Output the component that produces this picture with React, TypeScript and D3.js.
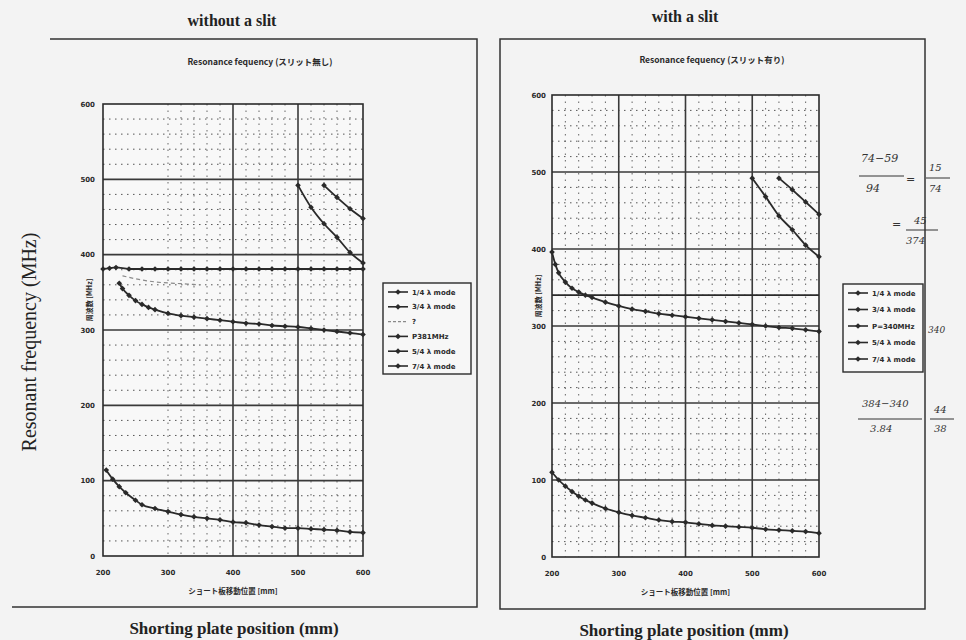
import React from "react";
import * as d3 from "d3";

// ---------- data ----------
const xTicks = [200, 300, 400, 500, 600];
const yTicks = [0, 100, 200, 300, 400, 500, 600];

// without a slit
const L_q1_x = [205, 215, 225, 235, 250, 260, 280, 300, 320, 340, 360, 380, 400, 420, 440, 460, 480, 500, 520, 540, 560, 580, 600];
const L_q1_y = [114, 102, 92, 84, 74, 68, 63, 59, 55, 52, 50, 48, 45, 44, 41, 39, 37, 37, 36, 35, 34, 32, 31];
const L_q3_x = [225, 230, 240, 250, 260, 270, 280, 300, 320, 340, 360, 380, 400, 420, 440, 460, 480, 500, 520, 540, 560, 580, 600];
const L_q3_y = [362, 355, 346, 339, 334, 330, 327, 322, 319, 317, 315, 313, 311, 309, 308, 306, 305, 304, 302, 300, 298, 296, 294];
const L_unk_x = [230, 250, 270, 290, 310, 330, 350];
const L_unk_y = [372, 368, 365, 363, 362, 361, 360];
const L_p_x = [200, 210, 220, 240, 260, 280, 300, 320, 340, 360, 380, 400, 420, 440, 460, 480, 500, 520, 540, 560, 580, 600];
const L_p_y = [381, 382, 383, 381, 381, 381, 381, 381, 381, 381, 381, 381, 381, 381, 381, 381, 381, 381, 381, 381, 381, 381];
const L_q5_x = [500, 520, 540, 560, 580, 600];
const L_q5_y = [492, 463, 441, 423, 403, 389];
const L_q7_x = [540, 560, 580, 600];
const L_q7_y = [492, 476, 461, 448];

// with a slit
const R_q1_x = [200, 210, 220, 230, 240, 250, 260, 280, 300, 320, 340, 360, 380, 400, 420, 440, 460, 480, 500, 520, 540, 560, 580, 600];
const R_q1_y = [110, 100, 92, 85, 79, 74, 70, 63, 58, 54, 51, 48, 46, 45, 43, 41, 40, 39, 38, 36, 35, 34, 33, 31];
const R_q3_x = [200, 205, 210, 220, 230, 240, 250, 260, 280, 300, 320, 340, 360, 380, 400, 420, 440, 460, 480, 500, 520, 540, 560, 580, 600];
const R_q3_y = [396, 380, 369, 357, 349, 344, 340, 337, 331, 326, 322, 319, 316, 314, 312, 310, 308, 306, 304, 302, 300, 298, 297, 295, 293];
const R_p_x = [200, 600];
const R_p_y = [340, 340];
const R_q5_x = [500, 520, 540, 560, 580, 600];
const R_q5_y = [492, 468, 443, 425, 405, 390];
const R_q7_x = [540, 560, 580, 600];
const R_q7_y = [492, 477, 461, 445];

const L_legend = ["1/4 λ mode", "3/4 λ mode", "?", "P381MHz", "5/4 λ mode", "7/4 λ mode"];
const R_legend = ["1/4 λ mode", "3/4 λ mode", "P=340MHz", "5/4 λ mode", "7/4 λ mode"];

const INK = "#2a2a2a";
const GRID = "#3a3a3a";

type Series = { xs: number[]; ys: number[]; dashed?: boolean; light?: boolean; marker?: boolean };

function Chart(props: {
  left: number; right: number; top: number; bottom: number;
  series: Series[]; vGrid: number[]; minorXFrom: number;
  title: string; titleX: number; titleY: number; legend: string[]; legendSeries: Series[];
  lg: { x: number; y: number; w: number; h: number; step: number };
  ylabX: number; tickLabRight: number; xTickY: number;
}) {
  const x = d3.scaleLinear().domain([200, 600]).range([props.left, props.right]);
  const y = d3.scaleLinear().domain([0, 600]).range([props.bottom, props.top]);
  const mkPath = (s: Series) =>
    d3.line<[number, number]>().x((d) => x(d[0])).y((d) => y(d[1])).curve(d3.curveMonotoneX)(
      s.xs.map((v, i) => [v, s.ys[i]] as [number, number])
    ) || "";
  const minorY = d3.range(20, 600, 20).filter((v) => v % 100 !== 0);
  const minorX = d3.range(props.minorXFrom, 600, 20).filter((v) => !props.vGrid.includes(v));
  return (
    <g>
      <rect x={props.left} y={props.top} width={props.right - props.left} height={props.bottom - props.top} fill="#f8f8f8" />
      {minorY.map((v) => (
        <line key={"my" + v} x1={props.left} x2={props.right} y1={y(v)} y2={y(v)} stroke="#555" strokeWidth={1} strokeDasharray="1.5,4.5" />
      ))}
      {minorX.map((v) => (
        <line key={"mx" + v} x1={x(v)} x2={x(v)} y1={props.top} y2={props.bottom} stroke="#666" strokeWidth={1} strokeDasharray="1.5,5" />
      ))}
      {[100, 200, 300, 400, 500].map((v) => (
        <line key={"gy" + v} x1={props.left} x2={props.right} y1={y(v)} y2={y(v)} stroke={GRID} strokeWidth={1.6} />
      ))}
      {props.vGrid.map((v) => (
        <line key={"gx" + v} x1={x(v)} x2={x(v)} y1={props.top} y2={props.bottom} stroke={GRID} strokeWidth={1.6} />
      ))}
      <rect x={props.left} y={props.top} width={props.right - props.left} height={props.bottom - props.top} fill="none" stroke={INK} strokeWidth={1.6} />
      {props.series.map((s, i) => (
        <g key={"s" + i}>
          <path d={mkPath(s)} fill="none" stroke={s.light ? "#8a8a8a" : INK} strokeWidth={s.light ? 1.2 : 1.8} strokeDasharray={s.dashed ? "4,3" : undefined} />
          {s.marker !== false && !s.light && s.xs.map((v, j) => (
            <rect key={j} x={x(v) - 2} y={y(s.ys[j]) - 2} width={4} height={4} fill={INK} transform={`rotate(45 ${x(v)} ${y(s.ys[j])})`} />
          ))}
        </g>
      ))}
      {yTicks.map((v) => (
        <text key={"yt" + v} x={props.tickLabRight} y={y(v) + 2.5} fontSize={7} fontWeight="bold" textAnchor="end" fill={INK} fontFamily="DejaVu Sans">{v}</text>
      ))}
      {xTicks.map((v) => (
        <text key={"xt" + v} x={x(v)} y={props.xTickY} fontSize={7} fontWeight="bold" textAnchor="middle" fill={INK} fontFamily="DejaVu Sans">{v}</text>
      ))}
      <text x={(props.left + props.right) / 2} y={props.xTickY + 19} fontSize={7.5} textAnchor="middle" fill={INK} fontFamily="Noto Sans CJK JP" fontWeight="bold">ショート板移動位置 [mm]</text>
      <text transform={`translate(${props.ylabX},${(props.top + props.bottom) / 2 - 30}) rotate(-90)`} fontSize={7} textAnchor="middle" fill={INK} fontFamily="Noto Sans CJK JP" fontWeight="bold">周波数 [MHz]</text>
      <text x={props.titleX} y={props.titleY} fontSize={8.5} textAnchor="middle" fill={INK} fontFamily="Noto Sans CJK JP" fontWeight="bold">{props.title}</text>
      <g>
        <rect x={props.lg.x} y={props.lg.y} width={props.lg.w} height={props.lg.h} fill="#f7f7f7" stroke={INK} strokeWidth={1.4} />
        {props.legend.map((t, i) => {
          const s = props.legendSeries[i];
          const yy = props.lg.y + 9 + i * props.lg.step;
          return (
            <g key={"lg" + i}>
              <line x1={props.lg.x + 5} x2={props.lg.x + 25} y1={yy} y2={yy} stroke={s.light ? "#8a8a8a" : INK} strokeWidth={s.light ? 1.2 : 1.6} strokeDasharray={s.dashed ? "3,2" : undefined} />
              {!s.light && <rect x={props.lg.x + 13} y={yy - 2} width={4} height={4} fill={INK} transform={`rotate(45 ${props.lg.x + 15} ${yy})`} />}
              <text x={props.lg.x + 29} y={yy + 2.5} fontSize={7} fontWeight="bold" fill={INK} fontFamily="DejaVu Sans">{t}</text>
            </g>
          );
        })}
      </g>
    </g>
  );
}

export default function App() {
  const Ls: Series[] = [
    { xs: L_q1_x, ys: L_q1_y },
    { xs: L_q3_x, ys: L_q3_y },
    { xs: L_unk_x, ys: L_unk_y, dashed: true, light: true },
    { xs: L_p_x, ys: L_p_y },
    { xs: L_q5_x, ys: L_q5_y },
    { xs: L_q7_x, ys: L_q7_y },
  ];
  const Rs: Series[] = [
    { xs: R_q1_x, ys: R_q1_y },
    { xs: R_q3_x, ys: R_q3_y },
    { xs: R_p_x, ys: R_p_y, marker: false },
    { xs: R_q5_x, ys: R_q5_y },
    { xs: R_q7_x, ys: R_q7_y },
  ];
  const hand = { fontFamily: "DejaVu Serif", fontStyle: "italic" as const, fill: "#333" };
  return (
    <svg width={966} height={640} style={{ position: "fixed", left: 0, top: 0, background: "#f3f3f3" }}>
      <rect x={0} y={0} width={966} height={640} fill="#f3f3f3" />
      {/* outer titles */}
      <text x={232} y={26} fontSize={16} fontWeight="bold" textAnchor="middle" fontFamily="Liberation Serif" fill="#222">without a slit</text>
      <text x={685} y={22} fontSize={16} fontWeight="bold" textAnchor="middle" fontFamily="Liberation Serif" fill="#222">with a slit</text>
      <text transform="translate(36,342) rotate(-90)" fontSize={20} textAnchor="middle" fontFamily="Liberation Serif" fill="#222">Resonant frequency (MHz)</text>
      <text x={234} y={634} fontSize={17} fontWeight="bold" textAnchor="middle" fontFamily="Liberation Serif" fill="#222">Shorting plate position (mm)</text>
      <text x={684} y={636} fontSize={17} fontWeight="bold" textAnchor="middle" fontFamily="Liberation Serif" fill="#222">Shorting plate position (mm)</text>
      {/* frames */}
      <path d="M50,39 H477 V607 H12" fill="none" stroke="#333" strokeWidth={1.5} />
      <rect x={500} y={39} width={425} height={570} fill="none" stroke="#333" strokeWidth={1.5} />
      <Chart left={103} right={363} top={104} bottom={556} series={Ls} vGrid={[400, 500]} minorXFrom={300}
        title="Resonance fequency (スリット無し)" titleX={260} titleY={65} legend={L_legend} legendSeries={Ls}
        lg={{ x: 383, y: 283, w: 88, h: 91, step: 14.8 }} ylabX={92} tickLabRight={95} xTickY={575} />
      <Chart left={552} right={819} top={95} bottom={557} series={Rs} vGrid={[300, 400, 500]} minorXFrom={220}
        title="Resonance fequency (スリット有り)" titleX={712} titleY={63} legend={R_legend} legendSeries={Rs}
        lg={{ x: 843, y: 284, w: 80, h: 88, step: 16.5 }} ylabX={541} tickLabRight={546} xTickY={576} />
      {/* handwritten notes */}
      <text x={861} y={162} fontSize={11} {...hand}>74−59</text>
      <line x1={859} x2={904} y1={176} y2={176} stroke="#333" strokeWidth={1} />
      <text x={866} y={192} fontSize={11} {...hand}>94</text>
      <text x={906} y={183} fontSize={11} {...hand}>=</text>
      <text x={929} y={171} fontSize={10} {...hand}>15</text>
      <line x1={926} x2={950} y1={178} y2={178} stroke="#333" strokeWidth={1} />
      <text x={929} y={192} fontSize={10} {...hand}>74</text>
      <text x={892} y={228} fontSize={11} {...hand}>=</text>
      <text x={914} y={224} fontSize={10} {...hand}>45</text>
      <line x1={906} x2={938} y1={230} y2={230} stroke="#333" strokeWidth={1} />
      <text x={906} y={244} fontSize={10} {...hand}>374</text>
      <text x={928} y={333} fontSize={9} {...hand}>340</text>
      <text x={862} y={407} fontSize={10} {...hand}>384−340</text>
      <line x1={858} x2={922} y1={419} y2={419} stroke="#333" strokeWidth={1} />
      <text x={870} y={432} fontSize={10} {...hand}>3.84</text>
      <text x={934} y={413} fontSize={10} {...hand}>44</text>
      <line x1={930} x2={954} y1={419} y2={419} stroke="#333" strokeWidth={1} />
      <text x={934} y={432} fontSize={10} {...hand}>38</text>
    </svg>
  );
}
